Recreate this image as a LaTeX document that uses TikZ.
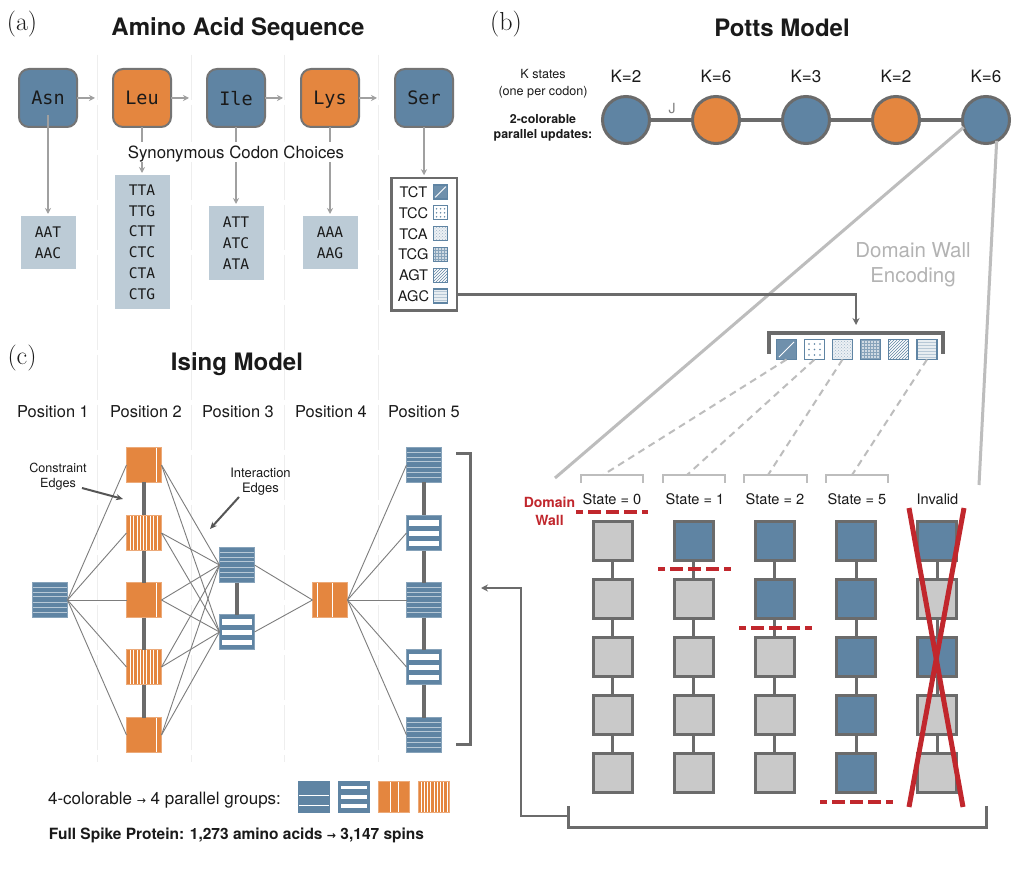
\documentclass[tikz,border=0pt]{standalone}
\usepackage{fontspec}
\setsansfont{TeX Gyre Heros}
\newfontfamily\monof{DejaVu Sans Mono}
\newfontfamily\dejavu{DejaVu Sans}
\usetikzlibrary{arrows.meta,calc,patterns}
\definecolor{cblue}{HTML}{5F84A3}
\definecolor{corange}{HTML}{E4863F}
\definecolor{bord}{HTML}{6B6B6B}
\definecolor{aabord}{HTML}{747474}
\definecolor{chgray}{HTML}{C9C9C9}
\definecolor{codon}{HTML}{BCCBD6}
\definecolor{sepc}{HTML}{EEEEEE}
\definecolor{lgray}{HTML}{BDBDBD}
\definecolor{agray}{HTML}{A0A0A0}
\definecolor{cred}{HTML}{C1272D}
\definecolor{edgec}{HTML}{7D7D7D}
\definecolor{txt}{HTML}{1A1A1A}
\definecolor{dwtext}{HTML}{B3B3B3}
\definecolor{anncol}{HTML}{555555}
\newcommand\fsz[1]{\fontsize{#1}{#1}\selectfont}
\newcommand\ra{{\dejavu\fontsize{11}{11}\selectfont →}}
\newcommand\pphl[2]{\draw[#2] ($(path picture bounding box.north west)!#1!(path picture bounding box.south west)$) -- ($(path picture bounding box.north east)!#1!(path picture bounding box.south east)$);}
\newcommand\ppvl[2]{\draw[#2] ($(path picture bounding box.north west)!#1!(path picture bounding box.north east)$) -- ($(path picture bounding box.south west)!#1!(path picture bounding box.south east)$);}
\newcommand\ppbar[2]{\fill[white] ($(path picture bounding box.north west)!#1!(path picture bounding box.south west)+(2.5,0)$) rectangle ($(path picture bounding box.north east)!#2!(path picture bounding box.south east)+(-2.5,0)$);}
\tikzset{
  every node/.style={font=\sffamily, inner sep=0pt, outer sep=0pt, text depth=0pt, text=txt},
  panel/.style={font=\rmfamily\fsz{26}, text depth=0.25em},
  ttl/.style={font=\sffamily\bfseries\fsz{24}},
  lbl/.style={font=\sffamily\fsz{#1}},
  blbl/.style={font=\sffamily\bfseries\fsz{#1}},
  aa/.style={rectangle, rounded corners=10pt, draw=aabord, line width=2pt, minimum size=58pt, fill=#1, font=\monof\fsz{18.5}},
  codonbox/.style={fill=codon, minimum width=55pt, minimum height=#1, align=center, font=\monof\fontsize{14.6}{20.8}\selectfont},
  sertxt/.style={font=\sffamily\fsz{14.6}},
  garr/.style={draw=agray, line width=1.6pt, -{Stealth[length=6pt,width=6pt]}},
  darr/.style={draw=bord, line width=2.5pt, -{Stealth[length=7pt,width=7pt]}},
  sepl/.style={draw=sepc, line width=1pt, dash pattern=on 45pt off 5pt},
  pcirc/.style={circle, draw=bord, line width=3pt, minimum size=47pt, fill=#1},
  pedge/.style={draw=bord, line width=3.5pt},
  bigl/.style={draw=lgray, line width=3pt},
  brk/.style={draw=bord, line width=3.5pt},
  sbrk/.style={draw=lgray, line width=2.5pt},
  dshl/.style={draw=lgray, line width=2pt, dash pattern=on 7pt off 5pt},
  cpat/.style={rectangle, minimum size=#1, line width=1.1pt, draw=cblue},
  cp1/.style={fill=cblue!90!white, path picture={\draw[white, line width=0.8pt] ($(path picture bounding box.south west)!0.12!(path picture bounding box.north east)$) -- ($(path picture bounding box.south west)!0.88!(path picture bounding box.north east)$);}},
  cp2/.style={fill=white, path picture={\foreach \i in {-1,0,1}{\foreach \j in {-1,0,1}{\fill[cblue] ($(path picture bounding box.center)+(\i*#1,\j*#1)$) circle (0.8pt);}}}},
  cp3/.style={preaction={fill=cblue!12}, pattern=crosshatch dots, pattern color=cblue!60},
  cp4/.style={preaction={fill=cblue!30}, pattern=grid, pattern color=cblue!75},
  cp5/.style={preaction={fill=white}, pattern=north east lines, pattern color=cblue},
  cp6/.style={preaction={fill=cblue!15}, pattern=horizontal lines, pattern color=cblue!45},
  chb/.style={rectangle, draw=bord, line width=3pt, minimum size=39pt},
  chl/.style={draw=bord, line width=3pt},
  wall/.style={draw=cred, line width=4.5pt, dash pattern=on 12.5pt off 5.5pt, dash phase=6pt},
  xline/.style={draw=cred, line width=5pt},
  isq/.style={rectangle, minimum size=35pt, line width=1pt},
  bthin/.style={isq, fill=cblue, draw=cblue!75!white, path picture={\foreach \f in {0.13,0.27,0.41,0.56,0.7,0.85}{\pphl{\f}{draw=white!55!cblue, line width=0.8pt}}}},
  bthick/.style={isq, fill=cblue, draw=cblue!75!white, path picture={\ppbar{0.14}{0.29}\ppbar{0.43}{0.58}\ppbar{0.72}{0.87}}},
  osolid/.style={isq, fill=corange, draw=corange!70!white, path picture={\ppvl{0.87}{draw=white, line width=1pt}}},
  ostripe/.style={isq, fill=corange, draw=corange!70!white, path picture={\foreach \f in {0.11,0.2,0.3,0.39,0.49,0.58,0.68,0.77,0.87}{\ppvl{\f}{draw=white, line width=0.9pt}}}},
  otwo/.style={isq, fill=corange, draw=corange!70!white, path picture={\ppvl{0.15}{draw=white, line width=1pt}\ppvl{0.58}{draw=white, line width=1pt}}},
  ie/.style={draw=edgec, line width=0.9pt},
  thk/.style={draw=bord, line width=4.5pt},
  annarr/.style={draw=anncol, line width=2pt, -{Stealth[length=7pt,width=6pt]}},
  leg/.style={rectangle, minimum size=31pt, line width=1pt},
}
\begin{document}
\begin{tikzpicture}[x=1pt,y=-1pt]
\useasboundingbox (0,0) rectangle (1018,874);
\fill[white] (0,0) rectangle (1018,874);

% column separators
\foreach \x in {97,191,284,378} \draw[sepl] (\x,55) -- (\x,762);

% titles
\node[panel] (pa) at (22,22) {(a)};
\node[ttl] (ta) at (238,27) {Amino Acid Sequence};
\node[panel] (pb) at (506,22) {(b)};
\node[ttl] (tb) at (782,28) {Potts Model};
\node[panel] (pc) at (22,356) {(c)};
\node[ttl] (tc) at (237,362) {Ising Model};

% ---------- (a) amino acids ----------
\node[aa=cblue] (asn) at (48,98) {Asn};
\node[aa=corange] (leu) at (142,98) {Leu};
\node[aa=cblue] (ile) at (236,98) {Ile};
\node[aa=corange] (lys) at (330,98) {Lys};
\node[aa=cblue] (ser) at (424,98) {Ser};
\coordinate (h1) at (95,98);
\coordinate (h2) at (189,98);
\coordinate (h3) at (283,98);
\coordinate (h4) at (377,98);
\draw[garr] (asn) -- (h1);
\draw[garr] (leu) -- (h2);
\draw[garr] (ile) -- (h3);
\draw[garr] (lys) -- (h4);

\node[codonbox=53pt] (casn) at (48,242.5) {AAT\\AAC};
\node[codonbox=134pt] (cleu) at (142,242) {TTA\\TTG\\CTT\\CTC\\CTA\\CTG};
\node[codonbox=74pt] (cile) at (236,243) {ATT\\ATC\\ATA};
\node[codonbox=53pt] (clys) at (330,242.5) {AAA\\AAG};
\node[draw=bord, line width=2.5pt, fill=white, minimum width=65.5pt, minimum height=132.5pt] (serbox) at (424,244.5) {};

\draw[garr, shorten >=2pt] ($(asn.center)+(0,17)$) -- (casn.north);
\draw[garr, shorten >=2pt] (leu.south) -- (cleu.north);
\draw[garr, shorten >=2pt] (ile.south) -- (cile.north);
\draw[garr, shorten >=2pt] (lys.south) -- (clys.north);
\draw[garr, shorten >=3pt] (ser.south) -- (serbox.north);
\node[lbl=16.8, fill=white, inner xsep=2pt, inner ysep=4pt] (syn) at (236,152) {Synonymous Codon Choices};

\node[sertxt] (st1) at (413.5,192) {TCT};
\node[sertxt] (st2) at (413.5,212.8) {TCC};
\node[sertxt] (st3) at (413.5,233.6) {TCA};
\node[sertxt] (st4) at (413.5,254.4) {TCG};
\node[sertxt] (st5) at (413.5,275.2) {AGT};
\node[sertxt] (st6) at (413.5,296) {AGC};
\node[cpat=14pt, cp1] (sp1) at (440.5,192) {};
\node[cpat=14pt, cp2=4pt] (sp2) at (440.5,212.8) {};
\node[cpat=14pt, cp3] (sp3) at (440.5,233.6) {};
\node[cpat=14pt, cp4] (sp4) at (440.5,254.4) {};
\node[cpat=14pt, cp5] (sp5) at (440.5,275.2) {};
\node[cpat=14pt, cp6] (sp6) at (440.5,296) {};

% ---------- (b) Potts ----------
\node[pcirc=cblue] (p1) at (626,120) {};
\node[pcirc=corange] (p2) at (716,120) {};
\node[pcirc=cblue] (p3) at (806,120) {};
\node[pcirc=corange] (p4) at (896,120) {};
\node[pcirc=cblue] (p5) at (986,120) {};
\draw[pedge] (p1) -- (p2);
\draw[pedge] (p2) -- (p3);
\draw[pedge] (p3) -- (p4);
\draw[pedge] (p4) -- (p5);
\node[lbl=17] (k1) at (626,76) {K=2};
\node[lbl=17] (k2) at (716,76) {K=6};
\node[lbl=17] (k3) at (806,76) {K=3};
\node[lbl=17] (k4) at (896,76) {K=2};
\node[lbl=17] (k5) at (986,76) {K=6};
\node[lbl=14, text=gray] (jl) at (672,108) {J};
\node[lbl=12.6] (ks1) at (543,74) {K states};
\node[lbl=12.6] (ks2) at (543,91) {(one per codon)};
\node[blbl=12.4] (cu1) at (543,119) {2-colorable};
\node[blbl=12.4] (cu2) at (543,134) {parallel updates:};

% big light lines
\coordinate (dw1) at (555,478);
\coordinate (dw2) at (979,485);
\draw[bigl] (p5.198) -- (dw1);
\draw[bigl] (p5.297) -- (dw2);
\node[lbl=20.5, text=dwtext, align=center, font=\sffamily\fontsize{20.5}{25}\selectfont] (dwe) at (913,262.5) {Domain Wall\\Encoding};

% Ser -> strip
\coordinate (stripin) at (856,325);
\draw[darr] ($(serbox.south east)+(0,-16)$) -| (stripin);
\draw[brk] (769,354) |- (943,333) -- (943,354);
\node[cpat=20pt, cp1] (sq1) at (786.5,349.5) {};
\node[cpat=20pt, cp2=5.5pt] (sq2) at (814.5,349.5) {};
\node[cpat=20pt, cp3] (sq3) at (842.5,349.5) {};
\node[cpat=20pt, cp4] (sq4) at (870.5,349.5) {};
\node[cpat=20pt, cp5] (sq5) at (898.5,349.5) {};
\node[cpat=20pt, cp6] (sq6) at (927,349.5) {};

\coordinate (t0) at (603,475);
\coordinate (t1) at (687,475);
\coordinate (t2) at (768,475);
\coordinate (t5) at (852,475);
\draw[dshl] (sq1.south) -- (t0);
\draw[dshl] (sq2.south) -- (t1);
\draw[dshl] (sq3.south) -- (t2);
\draw[dshl] (sq6.south) -- (t5);

\draw[sbrk] (581,483) |- (643,475) -- (643,483);
\draw[sbrk] (663,483) |- (725,475) -- (725,483);
\draw[sbrk] (744,483) |- (807,475) -- (807,483);
\draw[sbrk] (826,483) |- (888,475) -- (888,483);
\node[lbl=14.6] (sl0) at (612,499) {State = 0};
\node[lbl=14.6] (sl1) at (695,499) {State = 1};
\node[lbl=14.6] (sl2) at (775,499) {State = 2};
\node[lbl=14.6] (sl5) at (857,499) {State = 5};
\node[lbl=14.6] (sli) at (937.5,499) {Invalid};

% chains
\foreach \c/\x/\fa/\fb/\fc/\fd/\fe in {0/612.5/chgray/chgray/chgray/chgray/chgray, 1/693.7/cblue/chgray/chgray/chgray/chgray, 2/774.9/cblue/cblue/chgray/chgray/chgray, 3/856.1/cblue/cblue/cblue/cblue/cblue, 4/937.3/cblue/chgray/cblue/chgray/chgray}{
  \node[chb, fill=\fa] (ch\c-1) at (\x,541) {};
  \node[chb, fill=\fb] (ch\c-2) at (\x,599) {};
  \node[chb, fill=\fc] (ch\c-3) at (\x,657) {};
  \node[chb, fill=\fd] (ch\c-4) at (\x,715) {};
  \node[chb, fill=\fe] (ch\c-5) at (\x,773) {};
  \draw[chl] (ch\c-1) -- (ch\c-2);
  \draw[chl] (ch\c-2) -- (ch\c-3);
  \draw[chl] (ch\c-3) -- (ch\c-4);
  \draw[chl] (ch\c-4) -- (ch\c-5);
}
\draw[wall] (576,512) -- (648,512);
\draw[wall] (658,569) -- (731,569);
\draw[wall] (739,628) -- (812,628);
\draw[wall] (820,802) -- (893,802);
\node[blbl=14, text=cred, align=center, font=\sffamily\bfseries\fontsize{14}{18}\selectfont] (dwl) at (549.5,511) {Domain\\Wall};
\draw[xline] (909,508) -- (963,807);
\draw[xline] (964,508) -- (909,807);

% bottom bracket and return arrow
\draw[brk, line width=3pt] (568,806) |- (986,827) -- (986,806);
\coordinate (bbl) at (568,816);
\coordinate (ret) at (521,588);
\coordinate (isin) at (481,588);
\draw[darr] (bbl) -| (ret) -- (isin);

% ---------- (c) Ising ----------
\node[lbl=16.4] (ps1) at (53,412) {Position 1};
\node[lbl=16.4] (ps2) at (146,412) {Position 2};
\node[lbl=16.4] (ps3) at (238,412) {Position 3};
\node[lbl=16.4] (ps4) at (331,412) {Position 4};
\node[lbl=16.4] (ps5) at (424,412) {Position 5};

\node[bthin] (n1) at (50,600) {};
\node[osolid] (n21) at (144,465) {};
\node[ostripe] (n22) at (144,533) {};
\node[osolid] (n23) at (144,600) {};
\node[ostripe] (n24) at (144,667) {};
\node[osolid] (n25) at (144,735) {};
\node[bthin] (n31) at (237,565) {};
\node[bthick] (n32) at (237,632) {};
\node[otwo] (n4) at (330,600) {};
\node[bthin] (n51) at (424,465) {};
\node[bthick] (n52) at (424,533) {};
\node[bthin] (n53) at (424,600) {};
\node[bthick] (n54) at (424,667) {};
\node[bthin] (n55) at (424,735) {};

\draw[thk] (n21) -- (n22);
\draw[thk] (n22) -- (n23);
\draw[thk] (n23) -- (n24);
\draw[thk] (n24) -- (n25);
\draw[thk] (n31) -- (n32);
\draw[thk] (n51) -- (n52);
\draw[thk] (n52) -- (n53);
\draw[thk] (n53) -- (n54);
\draw[thk] (n54) -- (n55);

\foreach \n in {n21,n22,n23,n24,n25}{
  \draw[ie] (n1.east) -- (\n.west);
  \draw[ie] (\n.east) -- (n31.west);
  \draw[ie] (\n.east) -- (n32.west);
}
\draw[ie] (n31.east) -- (n4.west);
\draw[ie] (n32.east) -- (n4.west);
\foreach \n in {n51,n52,n53,n54,n55} \draw[ie] (n4.east) -- (\n.west);

\draw[brk, line width=3pt] (456,454) -| (470,744) -- (456,744);

\node[lbl=12.6, align=center, font=\sffamily\fontsize{12.6}{15}\selectfont] (ce) at (58,475.5) {Constraint\\Edges};
\coordinate (ce1) at (82,488);
\coordinate (ce2) at (123,499);
\draw[annarr] (ce1) -- (ce2);
\node[lbl=13, align=center, font=\sffamily\fontsize{13}{15}\selectfont] (iel) at (260.5,480.5) {Interaction\\Edges};
\coordinate (ie1) at (239,497);
\coordinate (ie2) at (210,529);
\draw[annarr] (ie1) -- (ie2);

% legend
\node[lbl=17] (lgt) at (164.5,798) {4-colorable \ra{} 4 parallel groups:};
\node[leg, fill=cblue, draw=cblue, path picture={\pphl{0.46}{draw=white, line width=1pt}\pphl{0.8}{draw=white, line width=1pt}}] (lg1) at (314,796.5) {};
\node[leg, fill=cblue, draw=cblue, path picture={\ppbar{0.16}{0.27}\ppbar{0.44}{0.57}\ppbar{0.73}{0.86}}] (lg2) at (354,796.5) {};
\node[leg, fill=corange, draw=corange!70!white, path picture={\ppvl{0.38}{draw=white, line width=1pt}\ppvl{0.64}{draw=white, line width=1pt}}] (lg3) at (394,796.5) {};
\node[leg, fill=corange, draw=corange!70!white, path picture={\foreach \f in {0.09,0.19,0.3,0.4,0.5,0.6,0.71,0.81,0.92}{\ppvl{\f}{draw=white, line width=0.9pt}}}] (lg4) at (434,796.5) {};
\node[blbl=15.5] (fsp) at (236.5,834) {Full Spike Protein: 1,273 amino acids \ra{} 3,147 spins};
\end{tikzpicture}
\end{document}
